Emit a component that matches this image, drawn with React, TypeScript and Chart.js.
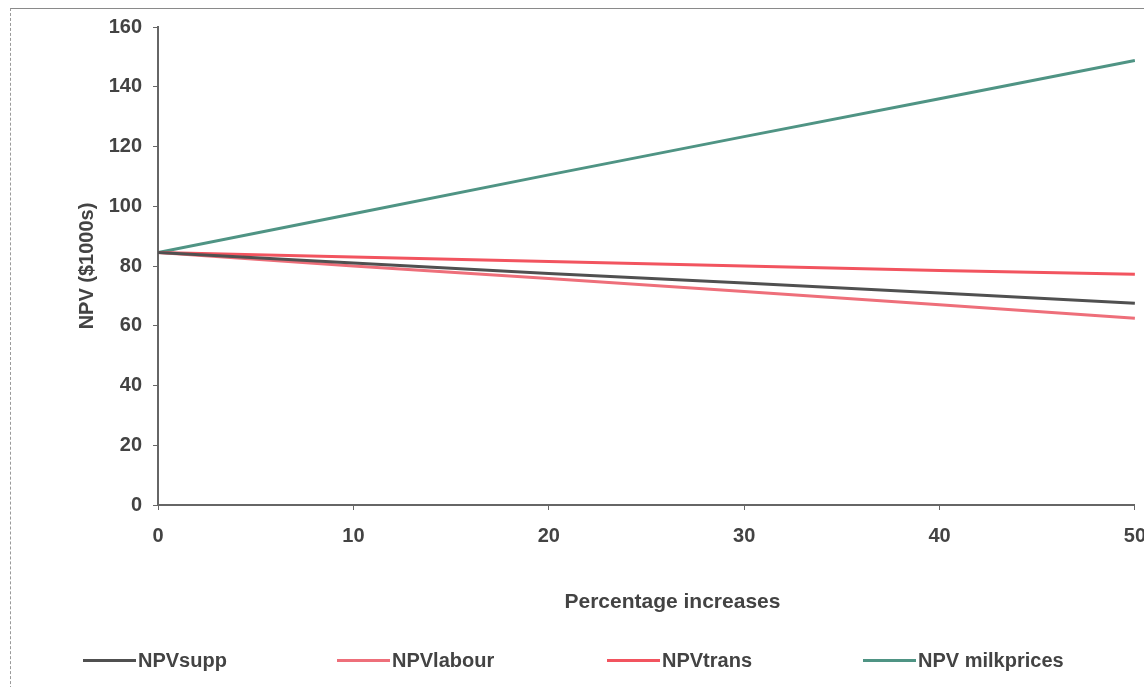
import React, { useEffect, useRef } from "react";
import { Chart, registerables } from "chart.js";

Chart.register(...registerables);

const xValues = [0, 10, 20, 30, 40, 50];
const npvSupp = [84.5, 81, 77.5, 74.3, 71, 67.5];
const npvLabour = [84.5, 80, 75.8, 71.5, 67, 62.5];
const npvTrans = [84.5, 83, 81.5, 80, 78.5, 77.2];
const npvMilk = [84.5, 97.5, 110.5, 123.3, 136, 148.8];
const seriesNames = ["NPVsupp", "NPVlabour", "NPVtrans", "NPV milkprices"];
const seriesColors = ["#505050", "#ee6f7a", "#f2545f", "#4f9484"];
const yTitle = "NPV ($1000s)";
const xTitle = "Percentage increases";

const FONT = "'Liberation Sans', Arial, sans-serif";
const TEXT = "#434343";

const xTitlePlugin = {
  id: "xTitleOffset",
  afterDraw(chart: any) {
    const { ctx, chartArea } = chart;
    ctx.save();
    ctx.font = `bold 21px ${FONT}`;
    ctx.fillStyle = TEXT;
    ctx.textAlign = "center";
    ctx.textBaseline = "middle";
    ctx.fillText(xTitle, (chartArea.left + chartArea.right) / 2 + 26, chartArea.bottom + 97);
    ctx.restore();
  },
};

export default function App() {
  const ref = useRef<HTMLCanvasElement | null>(null);

  useEffect(() => {
    if (!ref.current) return;
    const series = [npvSupp, npvLabour, npvTrans, npvMilk];
    const chart = new Chart(ref.current, {
      type: "line",
      data: {
        datasets: series.map((vals, i) => ({
          label: seriesNames[i],
          data: xValues.map((x, j) => ({ x, y: vals[j] })),
          borderColor: seriesColors[i],
          backgroundColor: seriesColors[i],
          borderWidth: 3,
          pointRadius: 0,
          tension: 0,
        })),
      },
      plugins: [xTitlePlugin],
      options: {
        animation: false,
        responsive: false,
        layout: { padding: { left: 72, right: 25, top: 27, bottom: 69 } },
        plugins: { legend: { display: false }, tooltip: { enabled: false } },
        scales: {
          x: {
            type: "linear",
            min: 0,
            max: 50,
            ticks: {
              stepSize: 10,
              padding: 14,
              color: TEXT,
              font: { family: FONT, size: 20, weight: "bold" },
              maxRotation: 0,
            },
            grid: { drawOnChartArea: false, drawTicks: true, tickLength: 5, color: "#666" },
            border: { display: true, color: "#666", width: 2 },
            title: { display: false, text: xTitle },
            afterFit: (s: any) => {
              s.height = 113;
            },
          },
          y: {
            min: 0,
            max: 160,
            ticks: {
              stepSize: 20,
              padding: 11,
              color: TEXT,
              font: { family: FONT, size: 20, weight: "bold" },
            },
            grid: { drawOnChartArea: false, drawTicks: true, tickLength: 5, color: "#666" },
            border: { display: true, color: "#666", width: 2 },
            title: {
              display: true,
              text: yTitle,
              color: TEXT,
              font: { family: FONT, size: 20, weight: "bold" },
              padding: { top: 3, bottom: 4 },
            },
            afterFit: (s: any) => {
              s.width = 86;
            },
          },
        },
      },
    });
    return () => chart.destroy();
  }, []);

  const legendPos = [83, 337, 607, 863];

  return (
    <div
      style={{
        position: "fixed",
        left: 0,
        top: 0,
        width: 1144,
        height: 687,
        overflow: "hidden",
        background: "#fff",
      }}
    >
      <div
        style={{
          position: "absolute",
          left: 10,
          top: 8,
          width: 1140,
          height: 700,
          borderTop: "1px solid #8a8a8a",
          borderLeft: "1px dashed #9a9a9a",
        }}
      />
      <canvas ref={ref} width={1160} height={687} style={{ position: "absolute", left: 0, top: 0 }} />
      {seriesNames.map((name, i) => (
        <div
          key={name}
          style={{
            position: "absolute",
            left: legendPos[i],
            top: 648,
            height: 24,
            display: "flex",
            alignItems: "center",
            fontFamily: FONT,
            fontWeight: "bold",
            fontSize: 20,
            color: TEXT,
            whiteSpace: "nowrap",
          }}
        >
          <span
            style={{
              display: "inline-block",
              width: 53,
              height: 3,
              background: seriesColors[i],
              marginRight: 2,
            }}
          />
          <span>{name}</span>
        </div>
      ))}
    </div>
  );
}
